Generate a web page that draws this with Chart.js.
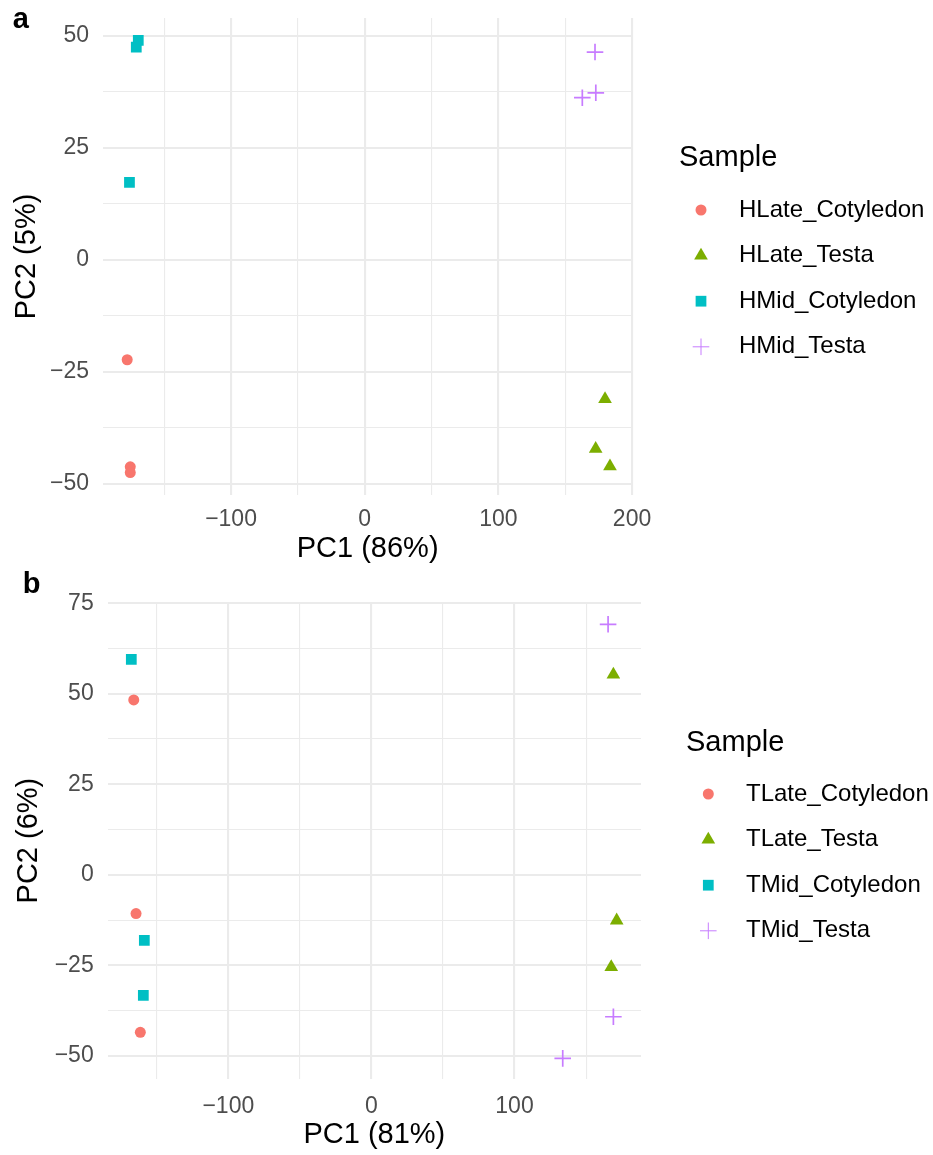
<!DOCTYPE html>
<html>
<head>
<meta charset="utf-8">
<script src="https://cdn.jsdelivr.net/npm/chart.js@4.4.0/dist/chart.umd.min.js"></script>
<style>
  body { margin: 0; background: #ffffff; }
  canvas { display: block; }
</style>
</head>
<body>
<canvas id="pcaTop" width="933" height="570"></canvas>
<canvas id="pcaBottom" width="933" height="585"></canvas>
<script>
// shared look (ggplot default hues)
const colours = ['#F8766D', '#7CAE00', '#00BFC4', '#C77CFF'];
const shapes = ['circle', 'triangle', 'rect', 'cross'];
const radii = [5.5, 7.9, 7.6, 8.3];

// panel a
const topSamples = ['HLate_Cotyledon', 'HLate_Testa', 'HMid_Cotyledon', 'HMid_Testa'];
const topPC1 = [[-177.7, -175.4, -175.4], [179.8, 172.8, 183.5], [-169.4, -170.9, -176.0], [172.3, 172.9, 162.8]];
const topPC2 = [[-22.3, -46.2, -47.5], [-31.1, -42.2, -46.1], [49.0, 47.5, 17.3], [46.4, 37.3, 36.2]];
const topXMajor = [-100, 0, 100, 200];
const topXMinor = [-150, -50, 50, 150];
const topYMajor = [-50, -25, 0, 25, 50];
const topYMinor = [-37.5, -12.5, 12.5, 37.5];

// panel b
const botSamples = ['TLate_Cotyledon', 'TLate_Testa', 'TMid_Cotyledon', 'TMid_Testa'];
const botPC1 = [[-166.1, -164.5, -161.5], [169.1, 171.4, 167.6], [-167.8, -158.7, -159.4], [165.4, 169.1, 133.7]];
const botPC2 = [[48.3, -10.7, -43.5], [55.3, -12.6, -25.5], [59.5, -18.1, -33.3], [69.2, -39.2, -50.7]];
const botXMajor = [-100, 0, 100];
const botXMinor = [-150, -50, 50, 150];
const botYMajor = [-50, -25, 0, 25, 50, 75];
const botYMinor = [-37.5, -12.5, 12.5, 37.5, 62.5];

Chart.defaults.font.family = "'Liberation Sans', Arial, sans-serif";

function fmt(v) {
    return v < 0 ? '\u2212' + Math.abs(v) : String(v);
}

function markerAt(ctx, i, x, y) {
    ctx.save();
    ctx.fillStyle = colours[i];
    ctx.strokeStyle = colours[i];
    Chart.helpers.drawPoint(ctx, {
        pointStyle: shapes[i], radius: radii[i], rotation: 0,
        borderWidth: shapes[i] === 'cross' ? 1.7 : 0
    }, x, y);
    ctx.restore();
}

// legend + panel letter drawn on the right side of each chart
function sidePlugin(o) {
    return {
        id: 'side',
        afterDraw(chart) {
            const ctx = chart.ctx;
            ctx.save();
            ctx.fillStyle = '#000';
            ctx.textAlign = 'left';
            ctx.textBaseline = 'alphabetic';
            ctx.font = "bold 29px 'Liberation Sans', Arial, sans-serif";
            ctx.fillText(o.letter, o.letterX, o.letterY);
            ctx.textBaseline = 'middle';
            ctx.font = "29px 'Liberation Sans', Arial, sans-serif";
            ctx.fillText('Sample', o.titleX, o.titleY);
            ctx.font = "24px 'Liberation Sans', Arial, sans-serif";
            o.names.forEach((n, i) => {
                const y = o.rowY + i * o.rowGap;
                markerAt(ctx, i, o.markX, y);
                ctx.fillStyle = '#000';
                ctx.fillText(n, o.textX, y);
            });
            ctx.restore();
        }
    };
}

function scale(majors, minors, min, max, title, fit, tickPad, titlePad, horizontal) {
    const all = majors.concat(minors).sort((a, b) => a - b);
    return {
        type: 'linear',
        min: min,
        max: max,
        afterBuildTicks: s => { s.ticks = all.map(v => ({ value: v })); },
        afterFit: s => {
            if (horizontal) s.height = fit; else s.width = fit;
            s.paddingTop = 0; s.paddingBottom = 0; s.paddingLeft = 0; s.paddingRight = 0;
        },
        grid: {
            color: '#EBEBEB',
            lineWidth: c => majors.includes(c.tick.value) ? 2.1 : 1.1,
            drawTicks: false
        },
        border: { display: false },
        ticks: {
            autoSkip: false,
            maxRotation: 0,
            padding: tickPad,
            color: '#4D4D4D',
            font: { size: 23 },
            callback: v => majors.includes(v) ? fmt(v) : ''
        },
        title: {
            display: true,
            text: title,
            color: '#000',
            font: { size: 29 },
            padding: horizontal ? { top: 0, bottom: titlePad } : { top: titlePad, bottom: 0 }
        }
    };
}

function makeDatasets(names, xs, ys) {
    return names.map((n, i) => ({
        label: n,
        data: xs[i].map((x, j) => ({ x: x, y: ys[i][j] })),
        pointStyle: shapes[i],
        pointRadius: radii[i],
        pointBackgroundColor: colours[i],
        pointBorderColor: colours[i],
        pointBorderWidth: shapes[i] === 'cross' ? 1.7 : 0,
        showLine: false
    }));
}

new Chart(document.getElementById('pcaTop'), {
    type: 'scatter',
    data: { datasets: makeDatasets(topSamples, topPC1, topPC2) },
    options: {
        responsive: false,
        animation: false,
        events: [],
        layout: { padding: { left: 0, right: 300.7, top: 18, bottom: 0 } },
        plugins: { legend: { display: false }, tooltip: { enabled: false } },
        scales: {
            x: scale(topXMajor, topXMinor, -195.8, 200.2, 'PC1 (86%)', 75, 10.5, 3.8, true),
            y: scale(topYMajor, topYMinor, -52.5, 54.0, 'PC2 (5%)', 103, 14, 9.5, false)
        }
    },
    plugins: [sidePlugin({
        names: topSamples, letter: 'a', letterX: 12.7, letterY: 28.3,
        titleX: 679, titleY: 158, markX: 701, textX: 739, rowY: 210, rowGap: 45.6
    })]
});

new Chart(document.getElementById('pcaBottom'), {
    type: 'scatter',
    data: { datasets: makeDatasets(botSamples, botPC1, botPC2) },
    options: {
        responsive: false,
        animation: false,
        events: [],
        layout: { padding: { left: 0, right: 292, top: 32.2, bottom: 0 } },
        plugins: { legend: { display: false }, tooltip: { enabled: false } },
        scales: {
            x: scale(botXMajor, botXMinor, -184.3, 188.4, 'PC1 (81%)', 76, 13.5, 2.6, true),
            y: scale(botYMajor, botYMinor, -56.4, 75.3, 'PC2 (6%)', 107.7, 14, 12, false)
        }
    },
    plugins: [sidePlugin({
        names: botSamples, letter: 'b', letterX: 22.7, letterY: 22.7,
        titleX: 686, titleY: 173, markX: 708.3, textX: 746, rowY: 224, rowGap: 45.6
    })]
});
</script>
</body>
</html>
